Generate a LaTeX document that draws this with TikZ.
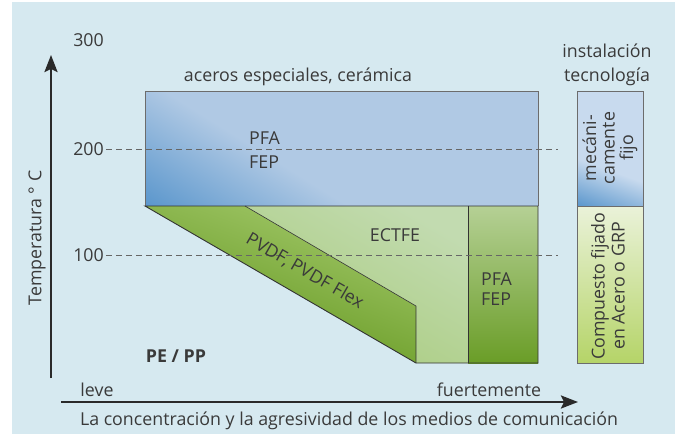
\documentclass[tikz,border=0pt]{standalone}
\usepackage{fontspec}
\setmainfont{Open Sans}
\usetikzlibrary{arrows.meta}
\definecolor{bg}{HTML}{D6E9F0}
\definecolor{txt}{HTML}{3A3A3A}
\definecolor{axisc}{HTML}{2A2A2A}
\definecolor{blueD}{HTML}{5A96CC}
\definecolor{blueL}{HTML}{B0C9E4}
\definecolor{blueCL}{HTML}{C8DAEE}
\definecolor{gDark}{HTML}{5E9318}
\definecolor{gBandTop}{HTML}{A2C86A}
\definecolor{gLightTop}{HTML}{C2DBB0}
\definecolor{gLightBot}{HTML}{A8CB7C}
\definecolor{gColTop}{HTML}{B5D095}
\definecolor{gColBot}{HTML}{6A9D27}
\definecolor{yTop}{HTML}{EAF2D9}
\definecolor{yBot}{HTML}{B5D468}
\definecolor{dashc}{HTML}{666666}
\tikzset{
  lbl/.style={text=txt, inner sep=0pt},
  axisline/.style={draw=axisc, line width=2.4pt, -{Stealth[length=17pt,width=13pt,inset=3pt]}},
  dashline/.style={draw=dashc, line width=1pt, dash pattern=on 6pt off 4pt},
  grayframe/.style={draw=gray!85!black, line width=0.8pt},
  darkframe/.style={draw=black!80, line width=0.9pt},
}
\begin{document}
\begin{tikzpicture}[x=1pt,y=-1pt, font=\fontsize{17.8}{24.5}\selectfont]
\useasboundingbox (0,0) rectangle (680,434);
\fill[bg] (12,2) rectangle (675,434);

% blue area with corner gradient
\begin{scope}
  \clip (145,91) rectangle (538,206);
  \fill[blueL] (145,91) rectangle (538,206);
  \begin{scope}[transform canvas={shift={(145,206)}, rotate=58}]
    \shade[left color=blueD, right color=blueL] (0,-400) rectangle (108,400);
  \end{scope}
\end{scope}
\draw[grayframe] (145,206) -- (145,91) -- (538,91) -- (538,206);

% green areas
\shade[top color=gBandTop, bottom color=gDark, shading angle=-20] (145,206) -- (245,206) -- (416,306) -- (416,363) -- cycle;
\shade[top color=gLightTop, bottom color=gLightBot, shading angle=-30] (245,206) -- (468,206) -- (468,363) -- (416,363) -- (416,306) -- cycle;
\shade[top color=gColTop, bottom color=gColBot] (468,206) rectangle (538,363);
\draw[darkframe] (145,206) -- (538,206) -- (538,363) -- (416,363) -- cycle;
\draw[darkframe, line width=0.6pt] (245,206) -- (416,306) -- (416,363);
\draw[darkframe, line width=0.6pt] (468,206) -- (468,363);

% right column
\begin{scope}
  \clip (577,91) rectangle (643,206);
  \fill[blueCL] (577,91) rectangle (643,206);
  \begin{scope}[transform canvas={shift={(577,206)}, rotate=70}]
    \shade[left color=blueD, right color=blueCL] (0,-300) rectangle (45,300);
  \end{scope}
\end{scope}
\shade[top color=yTop, bottom color=yBot] (577,206) rectangle (643,363);
\draw[grayframe] (577,91) rectangle (643,363);
\draw[grayframe] (577,206) -- (643,206);

% axes
\coordinate (yb) at (51,378);
\coordinate (yt) at (51,55);
\coordinate (xl) at (61,402);
\coordinate (xr) at (578,402);
\draw[axisline] (yb) -- (yt);
\draw[axisline] (xl) -- (xr);

% tick labels
\node[lbl, anchor=east] (t300) at (104,40) {300};
\node[lbl, anchor=east] (t200) at (104,149) {200};
\node[lbl, anchor=east] (t100) at (104,255) {100};
\coordinate (d200) at (558,149);
\coordinate (d100) at (558,255);
\draw[dashline] (t200.east) ++(2pt,0) -- (d200);
\draw[dashline] (t100.east) ++(2pt,0) -- (d100);

% labels
\node[lbl] (acer) at (298,77) {aceros especiales, cerámica};
\node[lbl, align=left, anchor=west] (pfa1) at (249,150) {PFA\\FEP};
\node[lbl] (ectfe) at (395,235) {ECTFE};
\node[lbl, align=left, anchor=west, font=\fontsize{17.8}{20}\selectfont] (pfa2) at (481,289) {PFA\\FEP};
\node[lbl, rotate=-30] (pvdf) at (305,271) {PVDF, PVDF Flex};
\node[lbl, font=\fontsize{17.8}{20}\selectfont\bfseries] (pepp) at (176,356) {PE / PP};
\node[lbl, align=center] (inst) at (607,65) {instalación\\tecnología};
\node[lbl, rotate=90, align=center, font=\fontsize{17.8}{18.5}\selectfont] (mec) at (610,148) {mecáni-\\camente\\fijo};
\node[lbl, rotate=90, align=center, font=\fontsize{17.8}{20}\selectfont] (comp) at (608,286) {Compuesto fijado\\en Acero o GRP};
\node[lbl, rotate=90] (temp) at (37,238) {Temperatura ° C};
\node[lbl] (leve) at (97,390) {leve};
\node[lbl] (fuerte) at (489,390) {fuertemente};
\node[lbl] (xlab) at (349,421) {La concentración y la agresividad de los medios de comunicación};
\end{tikzpicture}
\end{document}
